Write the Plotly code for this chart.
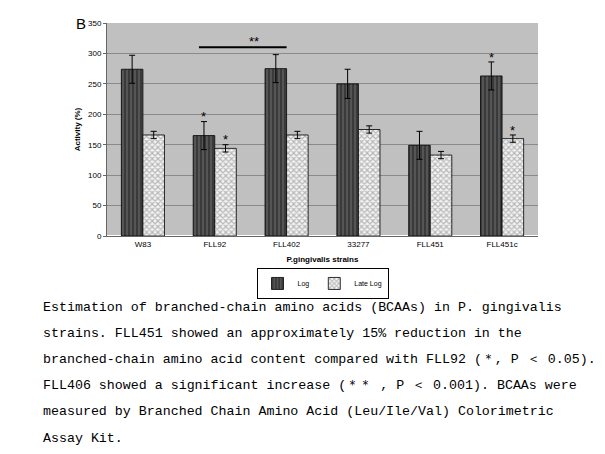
import plotly.graph_objects as go

strains = ["W83", "FLL92", "FLL402", "33277", "FLL451", "FLL451c"]
log_vals = [274, 165, 275, 250, 149, 263]
log_err = [23, 23, 23, 24, 23, 23]
late_vals = [166, 144, 166, 175, 133, 160]
late_err = [6, 6, 6, 6, 6, 6]
yticks = [0, 50, 100, 150, 200, 250, 300, 350]

caption = [
    "Estimation of branched-chain amino acids (BCAAs) in P. gingivalis",
    "strains. FLL451 showed an approximately 15% reduction in the",
    "branched-chain amino acid content compared with FLL92 (\uff0a, P \uff1c 0.05).",
    "FLL406 showed a significant increase (\uff0a\uff0a , P \uff1c 0.001). BCAAs were",
    "measured by Branched Chain Amino Acid (Leu/Ile/Val) Colorimetric",
    "Assay Kit.",
]

W, H = 605, 454
l, r, t, b = 99, 75, 15, 226
pw, ph = W - l - r, H - t - b

xs = list(range(len(strains)))
fig = go.Figure()
fig.add_trace(go.Bar(
    x=xs, y=log_vals, name="Log",
    error_y=dict(type="data", array=log_err, color="black", thickness=1, width=3),
    marker=dict(color="#444444", line=dict(color="black", width=0.8),
                pattern=dict(shape="|", fgcolor="#111111", bgcolor="#555555", size=4, solidity=0.4)),
))
fig.add_trace(go.Bar(
    x=xs, y=late_vals, name="Late Log",
    error_y=dict(type="data", array=late_err, color="black", thickness=1, width=3),
    marker=dict(color="white", line=dict(color="black", width=0.8),
                pattern=dict(shape="x", fgcolor="#777777", bgcolor="#f4f4f4", size=4, solidity=0.5)),
))

# significance marks
for i in [1, 5]:
    fig.add_annotation(x=i - 0.15, y=log_vals[i] + log_err[i] + 8, text="*", showarrow=False,
                       font=dict(size=13, color="black"))
    fig.add_annotation(x=i + 0.15, y=late_vals[i] + late_err[i] + 8, text="*", showarrow=False,
                       font=dict(size=13, color="black"))
fig.add_shape(type="line", x0=0.78, x1=2.0, y0=310, y1=310, line=dict(color="black", width=2))
fig.add_annotation(x=1.55, y=320, text="**", showarrow=False, font=dict(size=13, color="black"))
fig.add_annotation(x=(66 - l) / pw, y=1.0, xref="paper", yref="paper", text="B", showarrow=False,
                   xanchor="left", yanchor="middle", font=dict(size=15, family="Liberation Sans", color="black"))

# caption lines, placed in pixel terms
for k, line in enumerate(caption):
    fig.add_annotation(x=(33 - l) / pw, y=(H - b - (299 + 26.2 * k)) / ph, xref="paper", yref="paper",
                       text=line, showarrow=False, xanchor="left", yanchor="middle",
                       font=dict(size=13.3, family="Liberation Mono", color="black"))

fig.update_layout(
    width=W, height=H, margin=dict(l=l, r=r, t=t, b=b, autoexpand=False),
    paper_bgcolor="white", plot_bgcolor="#c0c0c0",
    barmode="group", bargap=0.4, bargroupgap=0,
    font=dict(family="Liberation Sans", size=8, color="black"),
    xaxis=dict(tickvals=xs, ticktext=strains, range=[-0.5, 5.5], showline=True,
               linecolor="#666666", ticks="", tickfont=dict(size=8),
               title=dict(text="<b>P.gingivalis strains</b>", font=dict(size=8), standoff=8)),
    yaxis=dict(tickvals=yticks, range=[0, 350], showline=True, linecolor="#666666",
               gridcolor="#8a8a8a", ticks="outside", ticklen=3, tickcolor="#666666",
               title=dict(text="<b>Activity (%)</b>", font=dict(size=8), standoff=6)),
    legend=dict(orientation="h", x=0.5, xanchor="center", y=-0.15, yanchor="top",
                bordercolor="black", borderwidth=1, font=dict(size=7),
                itemwidth=30, tracegroupgap=0),
)
fig.write_html("out.html")
